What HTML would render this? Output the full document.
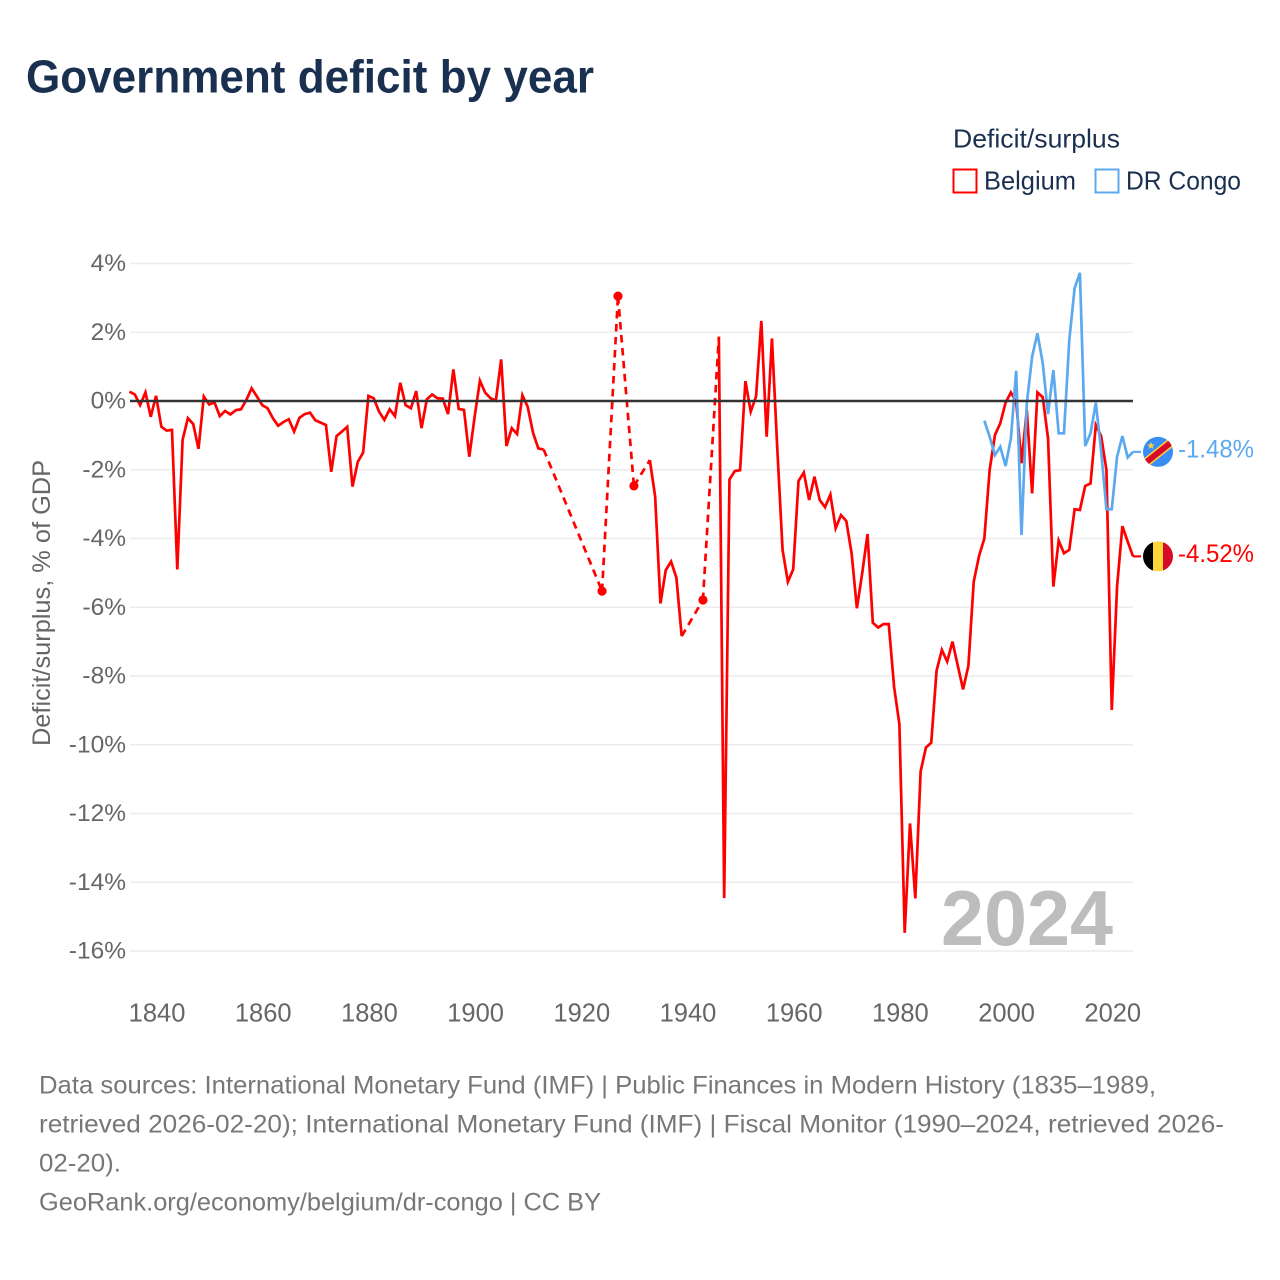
<!DOCTYPE html>
<html lang="en">
<head>
<meta charset="utf-8">
<title>Government deficit by year</title>
<style>
  html, body { margin: 0; padding: 0; background: #fff; }
  svg { display: block; font-family: "Liberation Sans", sans-serif; }
</style>
</head>
<body>
<svg id="chart" xmlns="http://www.w3.org/2000/svg" width="1280" height="1280" viewBox="0 0 1280 1280">
  <defs>
    <clipPath id="flag-clip"><circle cx="0" cy="0" r="15"></circle></clipPath>
  </defs>
  <rect x="0" y="0" width="1280" height="1280" fill="#ffffff"></rect>

  <text x="26" y="92.5" font-size="46" font-weight="700" fill="#1a3050" textLength="568" lengthAdjust="spacingAndGlyphs">Government deficit by year</text>

  <text x="953" y="147.5" font-size="26" fill="#1a3050" textLength="167" lengthAdjust="spacingAndGlyphs">Deficit/surplus</text>
  <g>
    <rect x="953.5" y="169.5" width="23" height="23" fill="#ffffff" stroke="#ff0000" stroke-width="2"></rect>
    <text x="984" y="189.5" font-size="26" fill="#1a3050" textLength="92" lengthAdjust="spacingAndGlyphs">Belgium</text>
  </g>
  <g>
    <rect x="1095.5" y="169.5" width="23" height="23" fill="#ffffff" stroke="#5da9ef" stroke-width="2"></rect>
    <text x="1126" y="189.5" font-size="26" fill="#1a3050" textLength="115" lengthAdjust="spacingAndGlyphs">DR Congo</text>
  </g>

  <text transform="translate(50 603) rotate(-90)" text-anchor="middle" font-size="25" fill="#666666" textLength="286" lengthAdjust="spacingAndGlyphs">Deficit/surplus, % of GDP</text>

  <g id="grid-layer"></g>
  <g id="y-tick-layer"></g>
  <g id="x-tick-layer"></g>

  <text x="941" y="945" font-size="78" font-weight="700" fill="#bdbdbd" textLength="172" lengthAdjust="spacingAndGlyphs">2024</text>

  <g id="series-layer"></g>
  <line id="zero-line" stroke="#333333" stroke-width="2.4"></line>

  <g id="flag-belgium">
    <g clip-path="url(#flag-clip)">
      <rect x="-15" y="-15" width="10" height="30" fill="#000000"></rect>
      <rect x="-5" y="-15" width="10" height="30" fill="#fdd63c"></rect>
      <rect x="5" y="-15" width="10" height="30" fill="#d70a27"></rect>
    </g>
  </g>
  <g id="flag-dr-congo">
    <g clip-path="url(#flag-clip)">
      <rect x="-15" y="-15" width="30" height="30" fill="#3a8df5"></rect>
      <line x1="-15" y1="13" x2="15" y2="-11" stroke="#fdd63c" stroke-width="9"></line>
      <line x1="-15" y1="13" x2="15" y2="-11" stroke="#d70a27" stroke-width="6"></line>
      <polygon points="-7,-10 -6,-7.4 -3.2,-7.4 -5.4,-5.6 -4.6,-3 -7,-4.5 -9.4,-3 -8.6,-5.6 -10.8,-7.4 -8,-7.4" fill="#fdd63c"></polygon>
    </g>
  </g>
  <g id="end-label-layer"></g>

  <g font-size="25" fill="#777777">
    <text x="39" y="1093.5" textLength="1117" lengthAdjust="spacingAndGlyphs">Data sources: International Monetary Fund (IMF) | Public Finances in Modern History (1835–1989,</text>
    <text x="39" y="1132.5" textLength="1185" lengthAdjust="spacingAndGlyphs">retrieved 2026-02-20); International Monetary Fund (IMF) | Fiscal Monitor (1990–2024, retrieved 2026-</text>
    <text x="39" y="1171.5" textLength="82" lengthAdjust="spacingAndGlyphs">02-20).</text>
    <text x="39" y="1210.5" textLength="562" lengthAdjust="spacingAndGlyphs">GeoRank.org/economy/belgium/dr-congo | CC BY</text>
  </g>
</svg>

<script>
const yTickValues = [4, 2, 0, -2, -4, -6, -8, -10, -12, -14, -16];
const xTickYears = [1840, 1860, 1880, 1900, 1920, 1940, 1960, 1980, 2000, 2020];

const belgiumFirstYear = 1835;
const belgiumValues = [
  0.27, 0.19, -0.12, 0.25, -0.46,
  0.15, -0.75, -0.86, -0.84, -4.9, -1.13, -0.5, -0.67, -1.39, 0.13,
  -0.1, -0.04, -0.44, -0.29, -0.39, -0.27, -0.24, 0.03, 0.37, 0.13,
  -0.12, -0.21, -0.5, -0.72, -0.61, -0.53, -0.89, -0.49, -0.38, -0.34,
  -0.56, -0.63, -0.7, -2.06, -1.02, -0.89, -0.75, -2.49, -1.77, -1.5,
  0.15, 0.08, -0.31, -0.55, -0.24, -0.44, 0.53, -0.12, -0.21, 0.29,
  -0.79, 0.05, 0.19, 0.08, 0.07, -0.38, 0.92, -0.23, -0.26, -1.62,
  -0.46, 0.59, 0.24, 0.08, 0.01, 1.21, -1.31, -0.79, -0.96, 0.17,
  -0.17, -0.92, -1.38, -1.41, null, null, null, null, null, null,
  null, null, null, null, -5.53, null, null, 3.05, null, null,
  -2.47, null, null, -1.72, -2.78, -5.89, -4.92, -4.67, -5.14, -6.84,
  null, null, null, -5.79, null, null, 1.87, -14.46, -2.28, -2.04,
  -2.01, 0.58, -0.31, 0.13, 2.33, -1.04, 1.82, -1.37, -4.33, -5.26,
  -4.9, -2.33, -2.08, -2.88, -2.2, -2.88, -3.09, -2.72, -3.7, -3.32,
  -3.49, -4.43, -6.03, -5.01, -3.87, -6.45, -6.59, -6.49, -6.49, -8.31,
  -9.4, -15.47, -12.29, -14.47, -10.78, -10.08, -9.94, -7.85, -7.24, -7.58,
  -7, -7.7, -8.39, -7.7, -5.26, -4.51, -4, -2.01, -0.99, -0.65,
  -0.05, 0.25, -0.02, -1.81, -0.26, -2.69, 0.25, 0.11, -1.09, -5.4,
  -4.06, -4.43, -4.33, -3.15, -3.17, -2.47, -2.4, -0.7, -1.02, -2.01,
  -8.99, -5.4, -3.64, -4.09, -4.52
];

const congoFirstYear = 1996;
const congoValues = [
  -0.57, -1.04, -1.57, -1.33,
  -1.89, -1.09, 0.88, -3.9, -0.07, 1.29, 1.97, 1.1, -0.38, 0.9,
  -0.94, -0.94, 1.77, 3.28, 3.73, -1.31, -0.94, -0.05, -1.45, -3.15,
  -3.15, -1.62, -1.02, -1.64, -1.48
];

const belgiumColor = '#ff0000';
const congoColor = '#5da9ef';
const SVG_NS = 'http://www.w3.org/2000/svg';

function xScale(year) { return 129.5 + (year - 1835) * (1133 - 129.5) / 189; }
function yScale(value) { return 401 - value * 34.375; }

function make(tag, attrs, parent) {
  const el = document.createElementNS(SVG_NS, tag);
  for (const key in attrs) el.setAttribute(key, attrs[key]);
  parent.appendChild(el);
  return el;
}

const gridLayer = document.getElementById('grid-layer');
const yTickLayer = document.getElementById('y-tick-layer');
const xTickLayer = document.getElementById('x-tick-layer');
const seriesLayer = document.getElementById('series-layer');
const endLabelLayer = document.getElementById('end-label-layer');

yTickValues.forEach(function (v) {
  const grid = make('line', { x1: 130, x2: 1133, y1: yScale(v), y2: yScale(v), stroke: '#ececec', 'stroke-width': 1.5 }, gridLayer);
  
  
  const label = make('text', { x: 126, y: yScale(v) + 7.5, 'text-anchor': 'end', 'font-size': 24.5, fill: '#666666' }, yTickLayer);
  
  
  label.textContent = v + '%';
});

xTickYears.forEach(function (year) {
  const label = make('text', { x: xScale(year) + 1, y: 1021.5, 'text-anchor': 'middle', 'font-size': 25.5, fill: '#666666' }, xTickLayer);
  
  
  label.textContent = year;
});

const zero = document.getElementById('zero-line');
zero.setAttribute('x1', 130);
zero.setAttribute('x2', 1133);
zero.setAttribute('y1', yScale(0));
zero.setAttribute('y2', yScale(0));

function drawSeries(firstYear, values, color) {
  const pts = [];
  values.forEach(function (v, i) {
    if (v !== null) pts.push({ year: firstYear + i, value: v });
  });
  let run = [pts[0]];
  function flushRun() {
    if (run.length > 1) {
      const d = run.map(function (p, i) {
        return (i ? 'L' : 'M') + xScale(p.year).toFixed(2) + ' ' + yScale(p.value).toFixed(2);
      }).join(' ');
      const path = make('path', { d: d, fill: 'none', stroke: color, 'stroke-width': 2.7, 'stroke-linejoin': 'miter' }, seriesLayer);
      
      
    }
  }
  for (let i = 1; i < pts.length; i++) {
    const a = pts[i - 1], b = pts[i];
    if (b.year - a.year === 1) {
      run.push(b);
    } else {
      flushRun();
      run = [b];
      const gap = make('line', { x1: xScale(a.year), y1: yScale(a.value), x2: xScale(b.year), y2: yScale(b.value), stroke: color, 'stroke-width': 2.7, 'stroke-dasharray': '7.5 5.5' }, seriesLayer);
      
      
    }
  }
  flushRun();
  pts.forEach(function (p, i) {
    const prev = pts[i - 1], next = pts[i + 1];
    const hasPrev = prev && p.year - prev.year === 1;
    const hasNext = next && next.year - p.year === 1;
    if (!hasPrev && !hasNext) {
      const dot = make('circle', { cx: xScale(p.year), cy: yScale(p.value), r: 4.6, fill: color }, seriesLayer);
      
      
    }
  });
  const last = pts[pts.length - 1];
  const connector = make('line', { x1: xScale(last.year), x2: 1141, y1: yScale(last.value), y2: yScale(last.value), stroke: color, 'stroke-width': 2.2 }, seriesLayer);
  
  
  return last;
}

const belgiumLast = drawSeries(belgiumFirstYear, belgiumValues, belgiumColor);
const congoLast = drawSeries(congoFirstYear, congoValues, congoColor);

function placeEnd(last, flagId, color) {
  const y = yScale(last.value);
  document.getElementById(flagId).setAttribute('transform', 'translate(1158 ' + y.toFixed(2) + ')');
  const label = make('text', { x: 1178, y: y + 5.5, 'font-size': 25, fill: color, textLength: 76, lengthAdjust: 'spacingAndGlyphs' }, endLabelLayer);
  
  
  label.textContent = last.value + '%';
}
placeEnd(belgiumLast, 'flag-belgium', belgiumColor);
placeEnd(congoLast, 'flag-dr-congo', congoColor);
</script>
</body>
</html>
